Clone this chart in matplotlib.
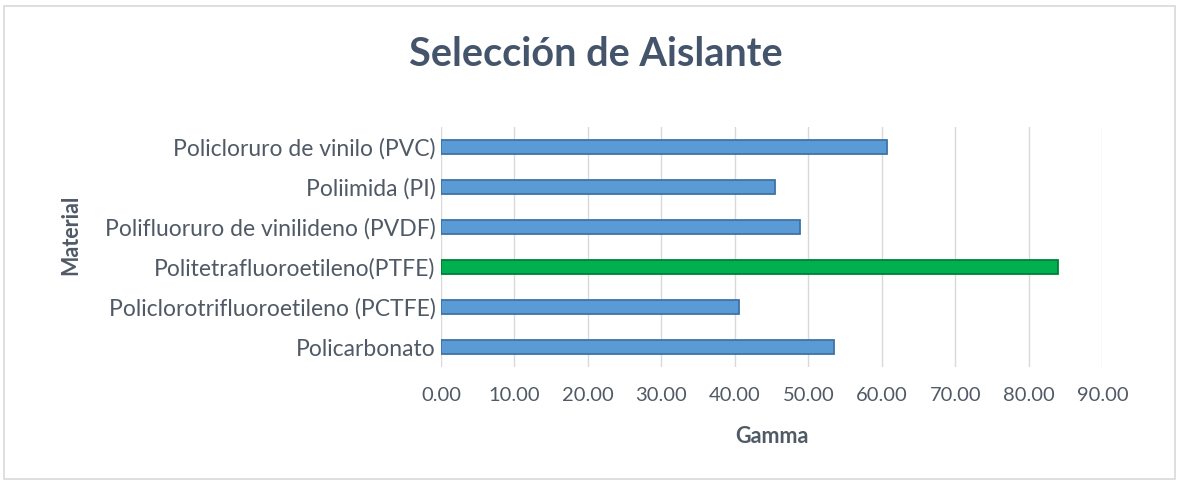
import matplotlib.pyplot as plt
from matplotlib.patches import Rectangle

materiales = ["Policarbonato", "Policlorotrifluoroetileno (PCTFE)", "Politetrafluoroetileno(PTFE)",
              "Polifluoruro de vinilideno (PVDF)", "Poliimida (PI)", "Policloruro de vinilo (PVC)"]
gamma = [53.5, 40.5, 84.0, 48.8, 45.5, 60.7]
colores = ["#5B9BD5", "#5B9BD5", "#00B050", "#5B9BD5", "#5B9BD5", "#5B9BD5"]
bordes = ["#3F73A6", "#3F73A6", "#00803A", "#3F73A6", "#3F73A6", "#3F73A6"]
ticks = [0, 10, 20, 30, 40, 50, 60, 70, 80, 90]

plt.rcParams['font.family'] = ['Lato', 'DejaVu Sans']
texto = "#44546A"
gris = "#505A66"

fig = plt.figure(figsize=(11.79, 4.8), dpi=100)
fig.patches.append(Rectangle((0.003, 0.003), 0.994, 0.985, transform=fig.transFigure,
                             fill=False, edgecolor="#D9D9D9", linewidth=1.2))
ax = fig.add_axes([0.374, 0.235, 0.561, 0.50])

ax.barh(range(len(materiales)), gamma, height=0.34, color=colores, edgecolor=bordes, linewidth=1.3, zorder=3)
ax.set_xlim(0, 90)
ax.set_ylim(-0.5, len(materiales) - 0.5)
ax.set_xticks(ticks)
ax.set_xticklabels([f"{t:.2f}" for t in ticks], fontsize=14.5, color=gris)
ax.set_yticks(range(len(materiales)))
ax.set_yticklabels(materiales, fontsize=16.5, color=gris)
ax.grid(axis='x', color="#D9D9D9", linewidth=1, zorder=0)
ax.tick_params(length=0, pad=4)
ax.tick_params(axis='x', pad=14)
for s in ax.spines.values():
    s.set_visible(False)

ax.set_xlabel("Gamma", fontsize=15.5, fontweight='bold', color=gris, labelpad=16)
fig.text(0.06, 0.51, "Material", rotation=90, fontsize=15.5, fontweight='bold', color=gris,
         ha='center', va='center')
fig.text(0.505, 0.887, "Selección de Aislante", fontsize=28.5, fontweight='bold', color=texto,
         ha='center', va='center')

fig.savefig("out.png", dpi=100)
